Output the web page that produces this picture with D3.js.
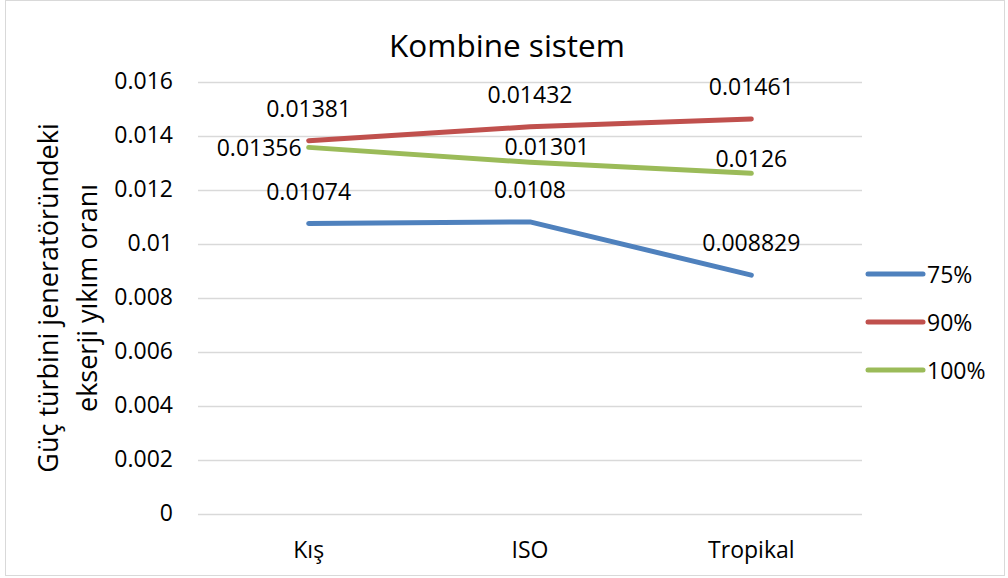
<!DOCTYPE html>
<html>
<head>
<meta charset="utf-8">
<script src="https://cdn.jsdelivr.net/npm/d3@7"></script>
<style>
	body { margin: 0; background: #fff; }
	text { font-family: "Open Sans", sans-serif; fill: #000; }
</style>
</head>
<body>
<div id="chart"></div>
<script>
var categories = [ "Kış", "ISO", "Tropikal" ];
var seriesNames = [ "75%", "90%", "100%" ];
var values75 = [ 0.01074, 0.0108, 0.008829 ];
var values90 = [ 0.01381, 0.01432, 0.01461 ];
var values100 = [ 0.01356, 0.01301, 0.0126 ];
var yTicks = [ 0, 0.002, 0.004, 0.006, 0.008, 0.01, 0.012, 0.014, 0.016 ];
var titleText = "Kombine sistem";
var yTitleLines = [ "Güç türbini jeneratöründeki", "ekserji yıkım oranı" ];

var colors = [ "#4f81bd", "#c0504d", "#9bbb59" ];
// label offsets (dx, dy) relative to each point, as placed in the original
var labelOffsets = [
	[ [ 0, -33 ], [ 0, -33 ], [ 0, -33 ] ],
	[ [ 0, -33 ], [ 0, -33 ], [ 0, -33 ] ],
	[ [ "left", 0 ], [ 17, -16 ], [ 0, -15 ] ] ];

function drawChart() {
	var width = 1008, height = 578;
	var svg = d3.select("#chart").append("svg").attr("width", width).attr(
			"height", height);

	svg.append("rect").attr("x", 5.5).attr("y", 0.5).attr("width", 999)
			.attr("height", 575).attr("fill", "#fff").attr("stroke", "#d9d9d9")
			.attr("stroke-width", 1);

	var x = d3.scaleBand().domain(categories).range([ 198, 862 ]);
	var y = d3.scaleLinear().domain([ 0, 0.016 ]).range([ 513.5, 81.5 ]);

	// gridlines
	svg.append("g").selectAll("line").data(yTicks).enter().append("line")
			.attr("x1", 198).attr("x2", 862).attr("y1", function(d) {
				return Math.round(y(d)) + 0.5;
			}).attr("y2", function(d) {
				return Math.round(y(d)) + 0.5;
			}).attr("stroke", "#d9d9d9").attr("stroke-width", 1.5);

	// y axis labels
	var yAxis = d3.axisLeft(y).tickValues(yTicks).tickSize(0).tickPadding(25)
			.tickFormat(function(d) {
				return d === 0 ? "0" : String(+d.toFixed(3));
			});
	var gy = svg.append("g").attr("transform", "translate(198,0)").call(yAxis);
	gy.select(".domain").remove();
	gy.selectAll("text").style("font-family", "Open Sans").style("font-size",
			"23px").attr("fill", "#000");

	// x axis labels
	var xAxis = d3.axisBottom(x).tickSize(0).tickPadding(28);
	var gx = svg.append("g").attr("transform", "translate(0,513.5)").call(
			xAxis);
	gx.select(".domain").remove();
	gx.selectAll("text").style("font-family", "Open Sans").style("font-size",
			"23px").attr("fill", "#000");

	// title
	svg.append("text").attr("x", 507).attr("y", 57).attr("text-anchor",
			"middle").style("font-size", "31.5px").text(titleText);

	// y axis title
	var yt = svg.append("text").attr("transform", "translate(0,298) rotate(-90)")
			.attr("text-anchor", "middle").style("font-size", "27px");
	yt.append("tspan").attr("x", 0).attr("y", 58).text(yTitleLines[0]);
	yt.append("tspan").attr("x", 0).attr("y", 97).text(yTitleLines[1]);

	var allSeries = [ values75, values90, values100 ];
	var line = d3.line().x(function(d, i) {
		return x(categories[i]) + x.bandwidth() / 2;
	}).y(function(d) {
		return y(d);
	});

	allSeries.forEach(function(vals, s) {
		svg.append("path").attr("d", line(vals)).attr("fill", "none").attr(
				"stroke", colors[s]).attr("stroke-width", 5).attr(
				"stroke-linecap", "round").attr("stroke-linejoin", "round");
	});

	// data labels
	allSeries.forEach(function(vals, s) {
		vals.forEach(function(v, i) {
			var px = x(categories[i]) + x.bandwidth() / 2;
			var py = y(v);
			var off = labelOffsets[s][i];
			var t = svg.append("text").style("font-size", "23px").attr(
					"dominant-baseline", "central").text(String(v));
			if (off[0] === "left") {
				t.attr("x", px - 7).attr("y", py + off[1]).attr(
						"text-anchor", "end");
			} else {
				t.attr("x", px + off[0]).attr("y", py + off[1]).attr(
						"text-anchor", "middle");
			}
		});
	});

	// legend
	var legendY = [ 274, 322, 370 ];
	seriesNames.forEach(function(name, s) {
		svg.append("line").attr("x1", 868).attr("x2", 923).attr("y1",
				legendY[s]).attr("y2", legendY[s]).attr("stroke", colors[s])
				.attr("stroke-width", 5).attr("stroke-linecap", "round");
		svg.append("text").attr("x", 927).attr("y", legendY[s]).attr(
				"dominant-baseline", "central").style("font-size", "23px")
				.text(name);
	});
}

drawChart();
</script>
</body>
</html>
